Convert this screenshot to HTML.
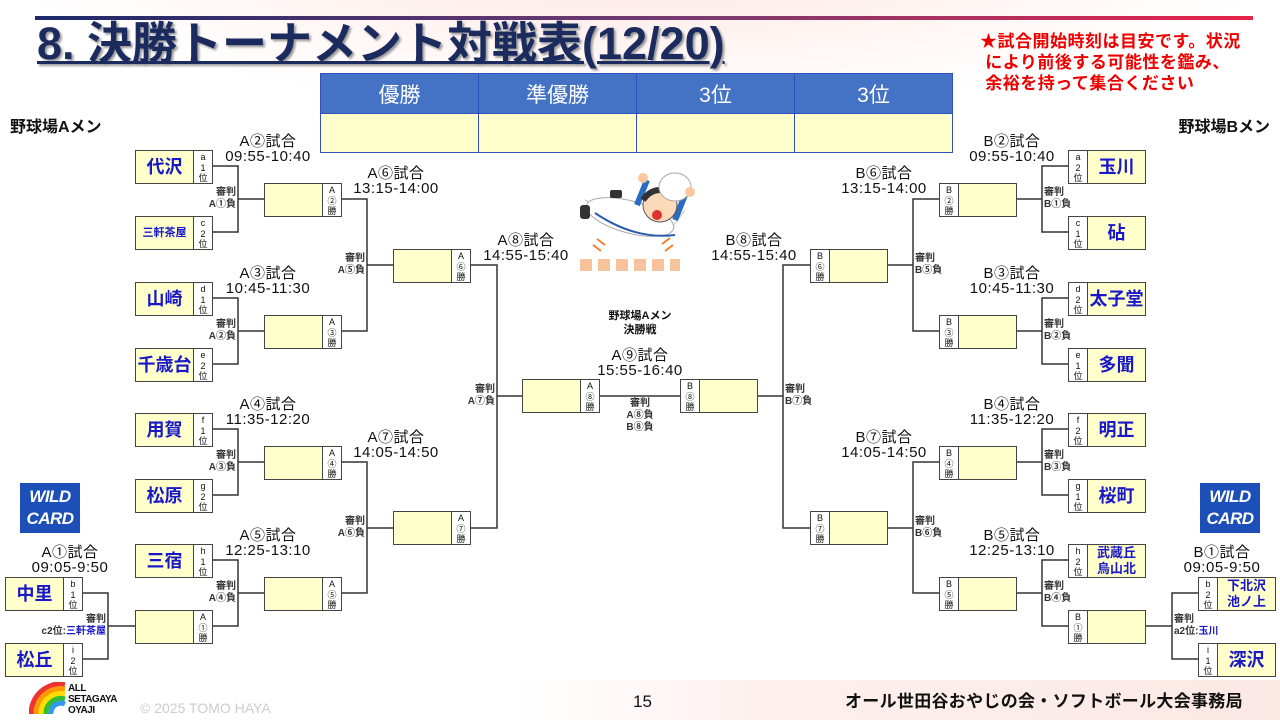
<!DOCTYPE html>
<html><head><meta charset="utf-8">
<style>
*{margin:0;padding:0;box-sizing:border-box}
body{width:1280px;height:720px;position:relative;overflow:hidden;background:#fff;font-family:"Liberation Sans","Noto Sans CJK JP",sans-serif;color:#111}
.a{position:absolute}
.b{position:absolute;width:78px;height:34px;border:1px solid #444;background:#ffffcc;display:flex}
.b .n{flex:1;display:flex;align-items:center;justify-content:center;color:#1818c8;font-weight:bold;font-size:18px;line-height:16px;text-align:center}
.b .n.s{font-size:11px;line-height:14px}
.b .n.m{font-size:13px;line-height:16px}
.b .r{width:19px;border-left:1px solid #444;font-size:9px;line-height:10.5px;text-align:center;padding-top:1px;background:#fff}
.b .r.L{border-left:none;border-right:1px solid #444}
.lbl{position:absolute;text-align:center;font-size:15px;line-height:15px;width:140px;letter-spacing:0.5px}
.ref{position:absolute;font-size:10px;line-height:12px;font-weight:bold;color:#333}
.rr{text-align:right}
.wc{position:absolute;width:60px;height:50px;background:#1d4fb8;color:#fff;font-weight:bold;font-style:italic;font-size:17px;line-height:22px;text-align:center;padding-top:3px;letter-spacing:-0.5px}
</style></head><body>
<div class="a" style="left:0;top:0;width:1280px;height:110px;background:radial-gradient(ellipse at 640px -40px,#fbe3e0 0,#fff5f3 40%,#fff 70%)"></div>
<div class="a" style="left:0;top:680px;width:1280px;height:40px;background:linear-gradient(90deg,#fff 0,#fff 40%,#fdf0ee 60%,#fce8e5 100%)"></div>
<div class="a" style="left:35px;top:16px;width:1218px;height:4px;background:linear-gradient(90deg,#1c2a6a,#7a3a70 55%,#e8234a)"></div>
<div class="a" style="left:37px;top:18px;font-size:45px;font-weight:bold;color:#1b2b5e;text-decoration:underline;text-decoration-thickness:3px;text-shadow:2px 2px 2px #999;letter-spacing:0;line-height:52px">8. 決勝トーナメント対戦表(12/20)</div>
<div class="a" style="left:980px;top:31px;color:#e00;font-weight:bold;font-size:17px;line-height:21px;letter-spacing:0.5px">★試合開始時刻は目安です。状況<br>&nbsp;により前後する可能性を鑑み、<br>&nbsp;余裕を持って集合ください</div>
<table class="a" style="left:320px;top:73px;width:633px;border-collapse:collapse;table-layout:fixed">
<tr style="height:40px;background:#4472c4;color:#fff;font-size:21px"><td style="border:1px solid #3050c0;text-align:center">優勝</td><td style="border:1px solid #3050c0;text-align:center">準優勝</td><td style="border:1px solid #3050c0;text-align:center">3位</td><td style="border:1px solid #3050c0;text-align:center">3位</td></tr>
<tr style="height:39px;background:#ffffcc"><td style="border:1px solid #3050c0"></td><td style="border:1px solid #3050c0"></td><td style="border:1px solid #3050c0"></td><td style="border:1px solid #3050c0"></td></tr></table>
<div class="a" style="left:10px;top:113px;font-size:16px;font-weight:bold">野球場Aメン</div>
<div class="a" style="right:10px;top:113px;font-size:16px;font-weight:bold">野球場Bメン</div>

<svg class="a" style="left:0;top:0" width="1280" height="720" stroke="#333" stroke-width="1.5" fill="none">
<path d="M212 166H238V232H212M238 199H264 M212 298H238V364H212M238 331H264 M212 429H238V495H212M238 462H264 M212 560H238V626H212M238 593H264 M82 593H108V659H82M108 626H135"/>
<path d="M341 199H367V331H341M367 265H393 M341 462H367V593H341M367 528H393"/>
<path d="M470 265H497V528H470M497 396H522 M599 396H680"/>
<path d="M1068 166H1042V232H1068M1042 199H1016 M1068 298H1042V364H1068M1042 331H1016 M1068 429H1042V495H1068M1042 462H1016 M1068 560H1042V626H1068M1042 593H1016 M1198 593H1172V659H1198M1172 626H1145"/>
<path d="M939 199H913V331H939M913 265H887 M939 462H913V593H939M913 528H887"/>
<path d="M810 265H783V528H810M783 396H758"/>
</svg>

<div class="b" style="left:135px;top:150px"><div class="n">代沢</div><div class="r">a<br>1<br>位</div></div>
<div class="b" style="left:135px;top:216px"><div class="n s">三軒茶屋</div><div class="r">c<br>2<br>位</div></div>
<div class="b" style="left:135px;top:282px"><div class="n">山崎</div><div class="r">d<br>1<br>位</div></div>
<div class="b" style="left:135px;top:348px"><div class="n">千歳台</div><div class="r">e<br>2<br>位</div></div>
<div class="b" style="left:135px;top:413px"><div class="n">用賀</div><div class="r">f<br>1<br>位</div></div>
<div class="b" style="left:135px;top:479px"><div class="n">松原</div><div class="r">g<br>2<br>位</div></div>
<div class="b" style="left:135px;top:544px"><div class="n">三宿</div><div class="r">h<br>1<br>位</div></div>
<div class="b" style="left:135px;top:610px"><div class="n"></div><div class="r">A<br>①<br>勝</div></div>
<div class="b" style="left:5px;top:577px"><div class="n">中里</div><div class="r">b<br>1<br>位</div></div>
<div class="b" style="left:5px;top:643px"><div class="n">松丘</div><div class="r">i<br>2<br>位</div></div>
<div class="b" style="left:264px;top:183px"><div class="n"></div><div class="r">A<br>②<br>勝</div></div>
<div class="b" style="left:264px;top:315px"><div class="n"></div><div class="r">A<br>③<br>勝</div></div>
<div class="b" style="left:264px;top:446px"><div class="n"></div><div class="r">A<br>④<br>勝</div></div>
<div class="b" style="left:264px;top:577px"><div class="n"></div><div class="r">A<br>⑤<br>勝</div></div>
<div class="b" style="left:393px;top:249px"><div class="n"></div><div class="r">A<br>⑥<br>勝</div></div>
<div class="b" style="left:393px;top:511px"><div class="n"></div><div class="r">A<br>⑦<br>勝</div></div>
<div class="b" style="left:522px;top:379px"><div class="n"></div><div class="r">A<br>⑧<br>勝</div></div>
<div class="b" style="left:680px;top:379px"><div class="r L">B<br>⑧<br>勝</div><div class="n"></div></div>
<div class="b" style="left:810px;top:249px"><div class="r L">B<br>⑥<br>勝</div><div class="n"></div></div>
<div class="b" style="left:810px;top:511px"><div class="r L">B<br>⑦<br>勝</div><div class="n"></div></div>
<div class="b" style="left:939px;top:183px"><div class="r L">B<br>②<br>勝</div><div class="n"></div></div>
<div class="b" style="left:939px;top:315px"><div class="r L">B<br>③<br>勝</div><div class="n"></div></div>
<div class="b" style="left:939px;top:446px"><div class="r L">B<br>④<br>勝</div><div class="n"></div></div>
<div class="b" style="left:939px;top:577px"><div class="r L">B<br>⑤<br>勝</div><div class="n"></div></div>
<div class="b" style="left:1068px;top:150px"><div class="r L">a<br>2<br>位</div><div class="n">玉川</div></div>
<div class="b" style="left:1068px;top:216px"><div class="r L">c<br>1<br>位</div><div class="n">砧</div></div>
<div class="b" style="left:1068px;top:282px"><div class="r L">d<br>2<br>位</div><div class="n">太子堂</div></div>
<div class="b" style="left:1068px;top:348px"><div class="r L">e<br>1<br>位</div><div class="n">多聞</div></div>
<div class="b" style="left:1068px;top:413px"><div class="r L">f<br>2<br>位</div><div class="n">明正</div></div>
<div class="b" style="left:1068px;top:479px"><div class="r L">g<br>1<br>位</div><div class="n">桜町</div></div>
<div class="b" style="left:1068px;top:544px"><div class="r L">h<br>2<br>位</div><div class="n m">武蔵丘<br>烏山北</div></div>
<div class="b" style="left:1068px;top:610px"><div class="r L">B<br>①<br>勝</div><div class="n"></div></div>
<div class="b" style="left:1198px;top:577px"><div class="r L">b<br>2<br>位</div><div class="n m">下北沢<br>池ノ上</div></div>
<div class="b" style="left:1198px;top:643px"><div class="r L">i<br>1<br>位</div><div class="n">深沢</div></div>

<div class="lbl" style="left:198px;top:134px">A②試合<br>09:55-10:40</div>
<div class="lbl" style="left:198px;top:266px">A③試合<br>10:45-11:30</div>
<div class="lbl" style="left:198px;top:397px">A④試合<br>11:35-12:20</div>
<div class="lbl" style="left:198px;top:528px">A⑤試合<br>12:25-13:10</div>
<div class="lbl" style="left:326px;top:166px">A⑥試合<br>13:15-14:00</div>
<div class="lbl" style="left:326px;top:430px">A⑦試合<br>14:05-14:50</div>
<div class="lbl" style="left:456px;top:233px">A⑧試合<br>14:55-15:40</div>
<div class="lbl" style="left:0px;top:545px">A①試合<br>09:05-9:50</div>
<div class="lbl" style="left:570px;top:348px">A⑨試合<br>15:55-16:40</div>
<div class="lbl" style="left:942px;top:134px">B②試合<br>09:55-10:40</div>
<div class="lbl" style="left:942px;top:266px">B③試合<br>10:45-11:30</div>
<div class="lbl" style="left:942px;top:397px">B④試合<br>11:35-12:20</div>
<div class="lbl" style="left:942px;top:528px">B⑤試合<br>12:25-13:10</div>
<div class="lbl" style="left:814px;top:166px">B⑥試合<br>13:15-14:00</div>
<div class="lbl" style="left:814px;top:430px">B⑦試合<br>14:05-14:50</div>
<div class="lbl" style="left:684px;top:233px">B⑧試合<br>14:55-15:40</div>
<div class="lbl" style="left:1152px;top:545px">B①試合<br>09:05-9:50</div>
<div class="lbl" style="left:570px;top:309px;font-size:11px;line-height:14px;font-weight:bold;letter-spacing:0">野球場Aメン<br>決勝戦</div>

<div class="ref rr" style="right:1044px;top:187px">審判<br>A①負</div>
<div class="ref rr" style="right:1044px;top:319px">審判<br>A②負</div>
<div class="ref rr" style="right:1044px;top:450px">審判<br>A③負</div>
<div class="ref rr" style="right:1044px;top:581px">審判<br>A④負</div>
<div class="ref rr" style="right:915px;top:253px">審判<br>A⑤負</div>
<div class="ref rr" style="right:915px;top:516px">審判<br>A⑥負</div>
<div class="ref rr" style="right:785px;top:384px">審判<br>A⑦負</div>
<div class="ref rr" style="right:1174px;top:614px">審判<br>c2位:<span style="color:#1818c8">三軒茶屋</span></div>
<div class="ref" style="left:1044px;top:187px">審判<br>B①負</div>
<div class="ref" style="left:1044px;top:319px">審判<br>B②負</div>
<div class="ref" style="left:1044px;top:450px">審判<br>B③負</div>
<div class="ref" style="left:1044px;top:581px">審判<br>B④負</div>
<div class="ref" style="left:915px;top:253px">審判<br>B⑤負</div>
<div class="ref" style="left:915px;top:516px">審判<br>B⑥負</div>
<div class="ref" style="left:785px;top:384px">審判<br>B⑦負</div>
<div class="ref" style="left:1174px;top:614px">審判<br>a2位:<span style="color:#1818c8">玉川</span></div>
<div class="ref" style="left:620px;top:398px;width:40px;text-align:center">審判<br>A⑧負<br>B⑧負</div>

<div class="wc" style="left:20px;top:483px">WILD<br>CARD</div>
<div class="wc" style="left:1200px;top:483px">WILD<br>CARD</div>

<svg class="a" style="left:575px;top:165px" width="130" height="120">
<path d="M10 35 L60 60 L95 65 L110 45" stroke="#bbb" stroke-width="1" fill="#fff"/>
<ellipse cx="55" cy="52" rx="45" ry="16" fill="#fff" stroke="#aaa" transform="rotate(15 55 52)"/>
<path d="M20 48 Q60 75 100 70" stroke="#2a5cb0" stroke-width="2" fill="none"/>
<rect x="5" y="40" width="10" height="14" fill="#333" rx="3"/>
<rect x="35" y="25" width="12" height="8" fill="#333" rx="2"/>
<path d="M72 15 L62 40" stroke="#2a6cc0" stroke-width="6"/>
<path d="M110 30 L100 55" stroke="#2a6cc0" stroke-width="6"/>
<circle cx="85" cy="40" r="17" fill="#fcd9b8" stroke="#555"/>
<path d="M68 35 Q80 18 100 30" stroke="#333" stroke-width="6" fill="none"/>
<ellipse cx="100" cy="22" rx="16" ry="14" fill="#fff" stroke="#aaa"/>
<ellipse cx="82" cy="50" rx="5" ry="5" fill="#d33"/>
<circle cx="68" cy="13" r="5" fill="#fcc79a"/>
<circle cx="115" cy="27" r="5" fill="#fcc79a"/>
<path d="M5 100h100" stroke="#f6c39a" stroke-width="12" stroke-dasharray="12 6"/>
<path d="M18 80l8 6M22 74l8 6M98 80l-8 6M95 73l-8 6" stroke="#f08030" stroke-width="2"/>
</svg>

<svg class="a" style="left:29px;top:682px" width="38" height="32">
<path d="M2 32A30 30 0 0 1 36 2" stroke="#e33" stroke-width="5" fill="none"/>
<path d="M7 32A25 25 0 0 1 36 7" stroke="#f90" stroke-width="5" fill="none"/>
<path d="M12 32A20 20 0 0 1 36 12" stroke="#fd0" stroke-width="5" fill="none"/>
<path d="M17 32A15 15 0 0 1 36 17" stroke="#3b3" stroke-width="5" fill="none"/>
<path d="M22 32A10 10 0 0 1 36 22" stroke="#39e" stroke-width="5" fill="none"/>
</svg>
<div class="a" style="left:68px;top:683px;font-size:10px;line-height:11px;font-weight:900;letter-spacing:-0.5px">ALL<br>SETAGAYA<br>OYAJI</div>
<div class="a" style="left:140px;top:700px;font-size:14px;color:#ccc">© 2025 TOMO HAYA</div>
<div class="a" style="left:633px;top:692px;font-size:17px">15</div>
<div class="a" style="left:845px;top:687px;font-size:17px;font-weight:bold;letter-spacing:0.3px">オール世田谷おやじの会・ソフトボール大会事務局</div>
</body></html>
